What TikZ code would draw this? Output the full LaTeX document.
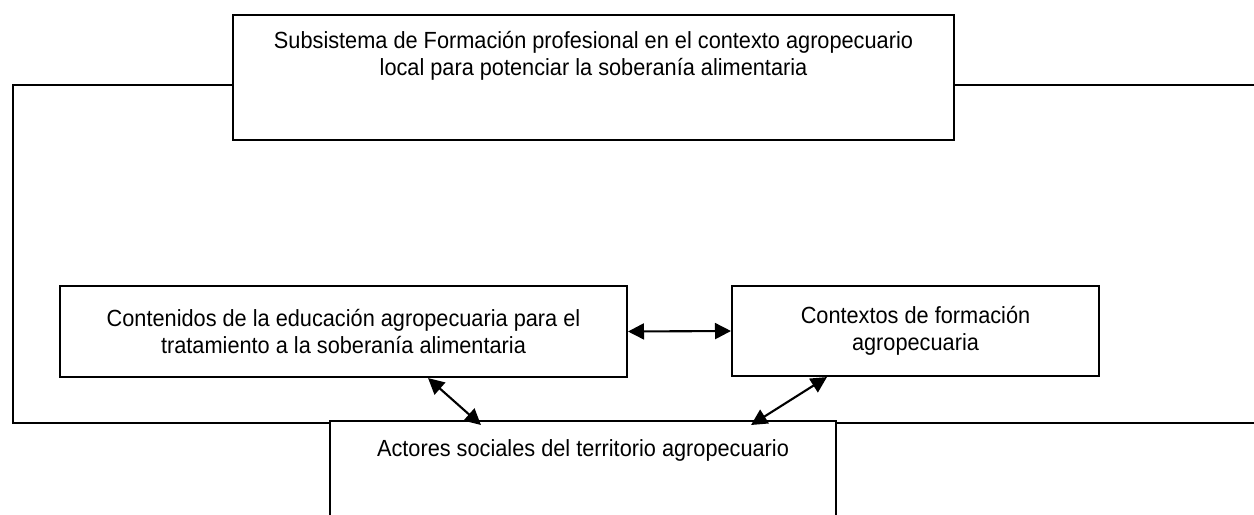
\documentclass[tikz,border=0pt]{standalone}
\usepackage{fontspec}
\setmainfont[FakeStretch=0.93]{Liberation Sans}
\usepackage{tikz}
\usetikzlibrary{arrows.meta, positioning}
\tikzstyle{box} = [rectangle, draw=black, line width=1.2pt, inner sep=0pt, align=center, font=\fontsize{13.3}{15.6}\selectfont]
\tikzstyle{txt} = [align=center, inner sep=0pt, font=\fontsize{13.3}{15.6}\selectfont]
\tikzstyle{line} = [draw=black, line width=1.2pt]
\tikzstyle{arrow} = [line width=1.2pt,<->,>={Triangle[length=3.2mm,width=3.2mm]}]

\begin{document}
\begin{tikzpicture}[x=0.02cm, y=-0.02cm]
\useasboundingbox (0,0) rectangle (1254,514);

\node (sub) [box, minimum width=14.42cm, minimum height=2.5cm] at (593.5,77.5) {};
\node (subtxt) [txt, below=0.34cm of sub.north] {Subsistema de Formación profesional en el contexto agropecuario\\local para potenciar la soberanía alimentaria};
\node (cont) [box, minimum width=11.34cm, minimum height=1.82cm] at (343.5,331.5) {Contenidos de la educación agropecuaria para el\\tratamiento a la soberanía alimentaria};
\node (ctx) [box, minimum width=7.34cm, minimum height=1.8cm] at (915.5,331) {Contextos de formación\\agropecuaria};
\node (act) [box, minimum width=10.12cm, minimum height=2.8cm, anchor=north] at (583,420) {};
\node (acttxt) [txt, below=0.38cm of act.north] {Actores sociales del territorio agropecuario};

% frame round the subsystem
\coordinate (tl) at (13,85);
\coordinate (bl) at (13,423);
\coordinate (tr) at (1254,85);
\coordinate (br) at (1254,423);
\draw [line] (sub.west |- tl) -- (tl) -- (bl) -- (act.west |- bl);
\draw [line] (sub.east |- tr) -- (tr);
\draw [line] (act.east |- br) -- (br);

\draw [arrow] (cont.east) -- (ctx.west);
\draw [arrow] ([xshift=-4cm]cont.south east) -- ([xshift=3.04cm,yshift=-0.1cm]act.north west);
\draw [arrow] ([xshift=1.92cm]ctx.south west) -- ([xshift=-1.72cm,yshift=-0.1cm]act.north east);

\end{tikzpicture}
\end{document}
